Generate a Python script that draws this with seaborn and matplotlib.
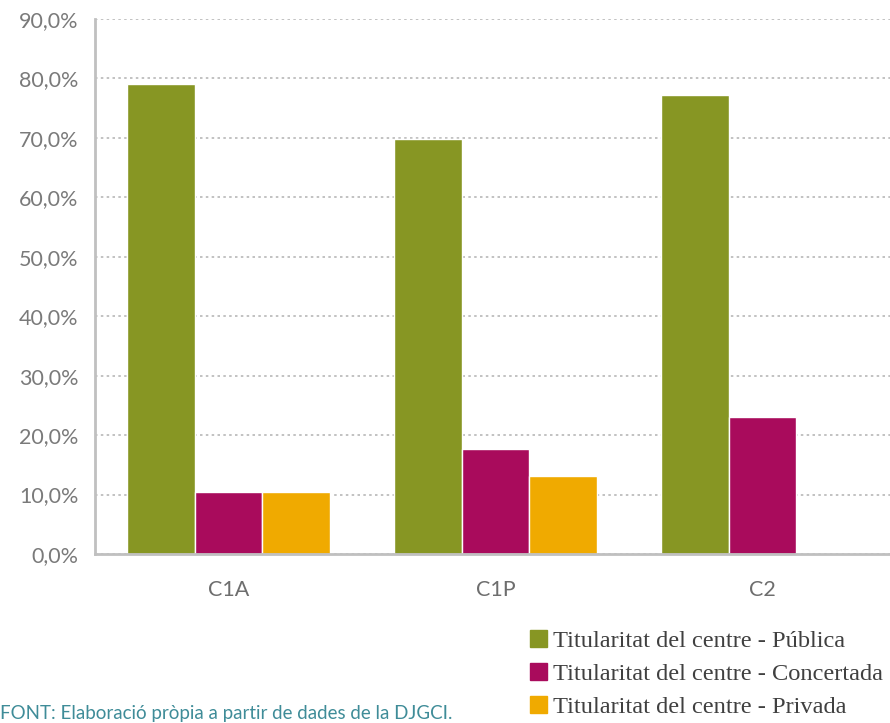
import numpy as np
import pandas as pd
import matplotlib.pyplot as plt
import seaborn as sns
from matplotlib.ticker import FuncFormatter, FixedLocator

#data
categories=['C1A','C1P','C2']
publica=[79.0,69.8,77.2]
concertada=[10.5,17.6,23.1]
privada=[10.5,13.1,0.0]
series=['Titularitat del centre - Pública','Titularitat del centre - Concertada','Titularitat del centre - Privada']
colors=['#879623','#A90B5C','#F0AA00']

df=pd.DataFrame({
    'cat':categories*3,
    'serie':[series[0]]*3+[series[1]]*3+[series[2]]*3,
    'val':publica+concertada+privada
})

sns.set_style('white')
plt.rcParams['font.family']=['Lato','DejaVu Sans']

fig=plt.figure(figsize=(8.9,7.23),dpi=100)
ax=fig.add_axes([0.1067,0.2338,0.9,0.74])

sns.barplot(data=df,x='cat',y='val',hue='serie',palette=colors,width=0.76,saturation=1,
            edgecolor='white',linewidth=1,ax=ax,legend=False)

ax.set_ylim(0,90)
ax.set_xlim(-0.5,2.5)
ax.set_yticks(np.arange(0,91,10))
ax.yaxis.set_major_formatter(FuncFormatter(lambda v,p:f'{v:.1f}%'.replace('.',',')))
ax.yaxis.grid(True,linestyle=(0,(1.5,2)),color='#b8b8b8',linewidth=1.2)
ax.set_axisbelow(True)
ax.set_xlabel('')
ax.set_ylabel('')

for s in ['top','right']:
    ax.spines[s].set_visible(False)
for s in ['left','bottom']:
    ax.spines[s].set_color('#c0c0c0')
    ax.spines[s].set_linewidth(2)

ax.tick_params(axis='y',length=8,width=1.5,color='#c0c0c0',labelsize=15.5,labelcolor='#7a7a7a',pad=4)
ax.tick_params(axis='x',which='major',length=0,labelsize=15.5,labelcolor='#6e6e6e',pad=19)
ax.xaxis.set_minor_locator(FixedLocator([-0.5,0.5,1.5,2.5]))
ax.tick_params(axis='x',which='minor',length=8,width=1.5,color='#c0c0c0')

handles=[plt.Rectangle((0,0),1,1,color=c) for c in colors]
fig.legend(handles,series,loc='lower left',bbox_to_anchor=(0.571,-0.024),frameon=False,
           handlelength=0.7,handleheight=0.7,handletextpad=0.25,labelspacing=0.45,
           prop={'family':['Liberation Serif','DejaVu Serif'],'size':17.6},labelcolor='#404040')

fig.text(0.0,0.006,'FONT: Elaboració pròpia a partir de dades de la DJGCI.',color='#3f8c98',fontsize=13.5)

fig.savefig('out.png',dpi=100)
